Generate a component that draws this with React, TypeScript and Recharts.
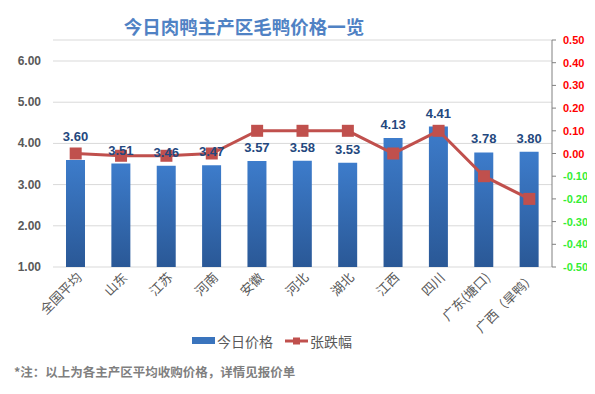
import React from "react";
import {
  ComposedChart,
  Bar,
  Line,
  XAxis,
  YAxis,
  CartesianGrid,
  Legend,
  LabelList,
} from "recharts";

const categories = [
  "全国平均",
  "山东",
  "江苏",
  "河南",
  "安徽",
  "河北",
  "湖北",
  "江西",
  "四川",
  "广东(塘口)",
  "广西（旱鸭）",
];
const prices = [3.6, 3.51, 3.46, 3.47, 3.57, 3.58, 3.53, 4.13, 4.41, 3.78, 3.8];
const changes = [0, -0.01, -0.01, 0, 0.1, 0.1, 0.1, 0, 0.1, -0.1, -0.2];
const leftTicks = [1, 2, 3, 4, 5, 6];
const rightTicks = [-0.5, -0.4, -0.3, -0.2, -0.1, 0, 0.1, 0.2, 0.3, 0.4, 0.5];

const data = categories.map((name, i) => ({
  name,
  price: prices[i],
  change: changes[i],
}));

const FONT = '"Liberation Sans", Arial, "Noto Sans CJK SC", sans-serif';
const CJK = '"Noto Sans CJK SC", "Liberation Sans", sans-serif';

const XTick = (props: any) => {
  const { x, y, payload } = props;
  return (
    <text
      x={x}
      y={y}
      dx={4}
      dy={6}
      transform={`rotate(-45, ${x}, ${y})`}
      textAnchor="end"
      fontSize={13}
      fill="#595959"
      fontFamily={CJK}
    >
      {payload.value}
    </text>
  );
};

const LeftTick = (props: any) => {
  const { x, y, payload } = props;
  return (
    <text
      x={x}
      y={y}
      dy={4}
      textAnchor="end"
      fontSize={12}
      fontWeight="bold"
      fill="#595959"
      fontFamily={FONT}
    >
      {Number(payload.value).toFixed(2)}
    </text>
  );
};

const RightTick = (props: any) => {
  const { x, y, payload } = props;
  const v = Number(payload.value);
  return (
    <text
      x={x}
      y={y}
      dy={4}
      textAnchor="start"
      fontSize={11}
      fontWeight="bold"
      fill={v < -0.001 ? "#33ee33" : "#ff0000"}
      fontFamily={FONT}
    >
      {(Math.abs(v) < 1e-9 ? 0 : v).toFixed(2)}
    </text>
  );
};

const BarLabel = (props: any) => {
  const { x, y, width, value, index } = props;
  const off = index === 0 ? 19 : 9;
  return (
    <text
      x={x + width / 2}
      y={y - off}
      textAnchor="middle"
      fontSize={13}
      fontWeight="bold"
      fill="#24487e"
      fontFamily={FONT}
    >
      {Number(value).toFixed(2)}
    </text>
  );
};

const LegendContent = () => (
  <div
    style={{
      display: "flex",
      alignItems: "center",
      fontFamily: CJK,
      fontSize: 14,
      color: "#595959",
      lineHeight: "18px",
      whiteSpace: "nowrap",
    }}
  >
    <svg width={24} height={10} style={{ marginRight: 2 }}>
      <rect x={0} y={1} width={23} height={7} fill="#3a74bd" />
    </svg>
    <span style={{ marginRight: 12 }}>今日价格</span>
    <svg width={24} height={10} style={{ marginRight: 2 }}>
      <line x1={0} y1={5} x2={23} y2={5} stroke="#c0504d" strokeWidth={3} />
      <rect x={8} y={1.5} width={7} height={7} fill="#c0504d" />
    </svg>
    <span>张跌幅</span>
  </div>
);

export default function App() {
  return (
    <div style={{ position: "relative", width: 595, height: 394, margin: -8, background: "#fff" }}>
      <div
        style={{
          position: "absolute",
          left: 0,
          width: 488,
          top: 12,
          textAlign: "center",
          fontFamily: CJK,
          fontWeight: "bold",
          fontSize: 18.5,
          color: "#5082c4",
          lineHeight: "28px",
        }}
      >
        今日肉鸭主产区毛鸭价格一览
      </div>
      <ComposedChart
        width={595}
        height={394}
        data={data}
        margin={{ top: 40, right: 0, left: 0, bottom: 57 }}
      >
        <defs>
          <linearGradient id="barGrad" x1="0" y1="0" x2="0" y2="1">
            <stop offset="0%" stopColor="#3d7ccb" />
            <stop offset="100%" stopColor="#2a5896" />
          </linearGradient>
        </defs>
        <CartesianGrid
          yAxisId="left"
          vertical={false}
          stroke="#d9d9d9"
          strokeWidth={1}
        />
        <XAxis
          dataKey="name"
          interval={0}
          axisLine={false}
          tickLine={false}
          height={70}
          tick={<XTick />}
          tickMargin={4}
        />
        <YAxis
          yAxisId="left"
          orientation="left"
          width={53}
          domain={[1, 6.51]}
          ticks={leftTicks}
          interval={0}
          axisLine={false}
          tickLine={false}
          tickSize={0}
          tickMargin={12}
          tick={<LeftTick />}
          allowDataOverflow
        />
        <YAxis
          yAxisId="right"
          orientation="right"
          width={43}
          domain={[-0.5, 0.5]}
          ticks={rightTicks}
          interval={0}
          axisLine={{ stroke: "#808080" }}
          tickLine={{ stroke: "#808080" }}
          tickSize={4}
          tickMargin={7}
          tick={<RightTick />}
          allowDataOverflow
        />
        <Bar
          yAxisId="left"
          dataKey="price"
          name="今日价格"
          fill="url(#barGrad)"
          barSize={19}
          isAnimationActive={false}
        >
          <LabelList dataKey="price" content={<BarLabel />} />
        </Bar>
        <Line
          yAxisId="right"
          dataKey="change"
          name="张跌幅"
          stroke="#c0504d"
          strokeWidth={3}
          dot={(p: any) => (
            <rect
              key={`d${p.index}`}
              x={p.cx - 6}
              y={p.cy - 6}
              width={12}
              height={12}
              fill="#c0504d"
            />
          )}
          activeDot={false}
          isAnimationActive={false}
        />
        <Legend
          layout="vertical"
          align="center"
          verticalAlign="middle"
          content={<LegendContent />}
          wrapperStyle={{ top: 332, left: 192, width: 160, height: 20 }}
        />
      </ComposedChart>
      <div
        style={{
          position: "absolute",
          left: 14,
          top: 363,
          fontFamily: CJK,
          fontWeight: "bold",
          fontSize: 12.5,
          color: "#7f7f7f",
          lineHeight: "18px",
          whiteSpace: "nowrap",
        }}
      >
        *注：以上为各主产区平均收购价格，详情见报价单
      </div>
    </div>
  );
}
